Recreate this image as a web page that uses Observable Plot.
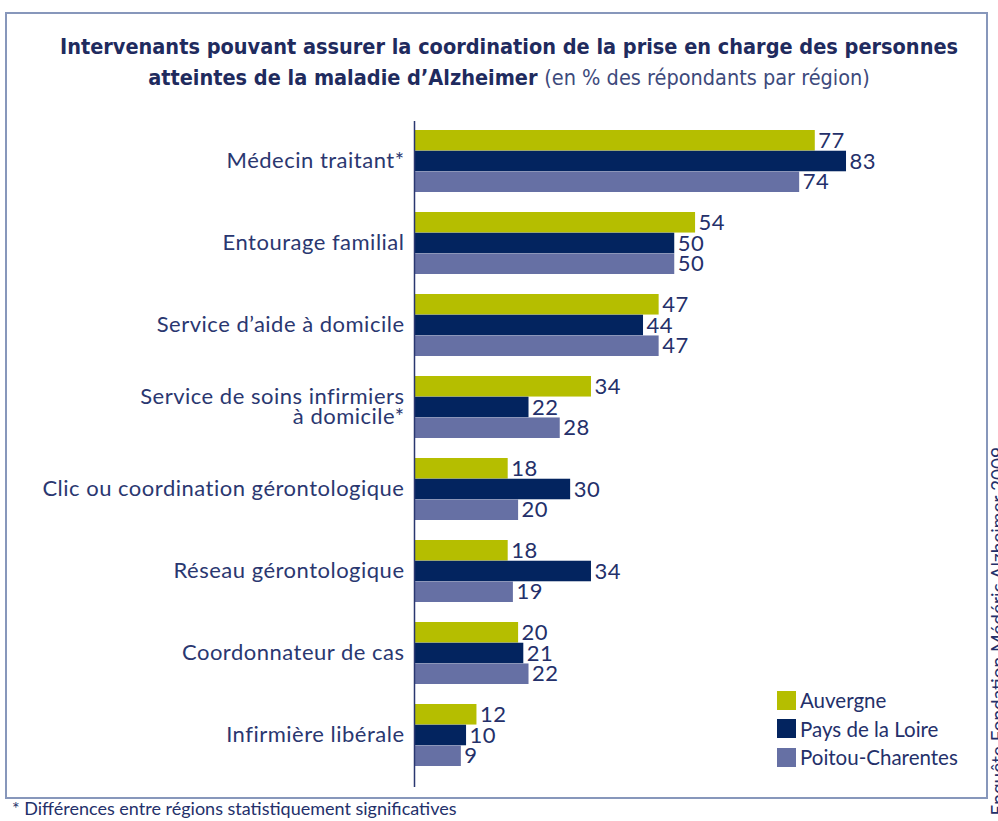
<!DOCTYPE html>
<html>
<head>
<meta charset="utf-8">
<script src="https://cdn.jsdelivr.net/npm/d3@7"></script>
<script src="https://cdn.jsdelivr.net/npm/@observablehq/plot@0.6"></script>
<style>
  html, body { margin: 0; padding: 0; background: #fff; }
  body { width: 998px; height: 821px; position: relative; overflow: hidden; font-family: Lato, "Open Sans", sans-serif; color: #24306a; }
  #chart { position: absolute; left: 0; top: 0; }
  #chart text { letter-spacing: 0.5px; }
  #frame { position: absolute; left: 5px; top: 12px; width: 979px; height: 783px; border: 2px solid #8797bb; pointer-events: none; }
  #title { position: absolute; left: 10px; top: 31px; width: 998px; text-align: center; font-family: "Liberation Sans Narrow", "DejaVu Sans Condensed", sans-serif; font-weight: bold; font-size: 21.5px; line-height: 31px; color: #1f2b5e; }
  #title .sub { font-weight: normal; color: #3d4a7c; }
  #legend { position: absolute; left: 777px; top: 686px; }
  .li { display: flex; align-items: center; height: 28.5px; font-size: 20.5px; color: #24306a; }
  .sw { width: 19px; height: 19px; margin-right: 4px; }
  #foot { position: absolute; left: 12px; top: 797px; font-size: 18px; color: #24306a; }
  #source { position: absolute; left: 988px; top: 447px; writing-mode: vertical-rl; transform: rotate(180deg); font-size: 19px; line-height: 19px; color: #24306a; white-space: nowrap; }
</style>
</head>
<body>
<div id="chart"></div>
<div id="frame"></div>
<div id="title">Intervenants pouvant assurer la coordination de la prise en charge des personnes<br>atteintes de la maladie d’Alzheimer <span class="sub">(en % des répondants par région)</span></div>
<div id="legend"></div>
<div id="foot">* Différences entre régions statistiquement significatives</div>
<div id="source">Enquête Fondation Médéric Alzheimer 2009</div>
<script>
const categories = [
  "Médecin traitant*",
  "Entourage familial",
  "Service d’aide à domicile",
  "Service de soins infirmiers\nà domicile*",
  "Clic ou coordination gérontologique",
  "Réseau gérontologique",
  "Coordonnateur de cas",
  "Infirmière libérale"
];
const regions = ["Auvergne", "Pays de la Loire", "Poitou-Charentes"];
const auvergne        = [77, 54, 47, 34, 18, 18, 20, 12];
const paysDeLaLoire   = [83, 50, 44, 22, 30, 34, 21, 10];
const poitouCharentes = [74, 50, 47, 28, 20, 19, 22, 9];
const colors = ["#b5be00", "#03245f", "#6670a4"];

const series = [auvergne, paysDeLaLoire, poitouCharentes];
const data = [];
series.forEach((vals, r) => vals.forEach((v, i) => data.push({category: categories[i], region: regions[r], ri: r, value: v})));

const W = 998, H = 821;
const mTop = 121, mBottom = 34, mLeft = 414, mRight = 63.5;
const insTop = 8, insBottom = 20;
const padInner = 0.244;
const rangeH = H - mTop - mBottom - insTop - insBottom;
const step = rangeH / (categories.length - padInner);
const bw = step * (1 - padInner);
const bh = bw / 3;
const font = "Lato, 'Open Sans', sans-serif";

const marks = [];
regions.forEach((reg, r) => {
  const d = data.filter(e => e.ri === r);
  marks.push(Plot.barX(d, {x: "value", y: "category", fill: colors[r], insetTop: r * bh, insetBottom: (2 - r) * bh}));
  marks.push(Plot.text(d, {x: "value", y: "category", text: d => String(d.value), dy: (r - 1) * bh, dx: 3, textAnchor: "start", fill: "#24306a", fontSize: 22, fontFamily: font}));
});
marks.push(Plot.text(categories, {x: 0, y: d => d, text: d => d, textAnchor: "end", dx: -10, fill: "#2a3770", fontSize: 22, lineHeight: 0.9, fontFamily: font}));
marks.push(Plot.ruleX([0], {stroke: "#2a3770", strokeWidth: 1.5}));

const plot = Plot.plot({
  width: W, height: H,
  marginTop: mTop, marginBottom: mBottom, marginLeft: mLeft, marginRight: mRight,
  insetTop: insTop, insetBottom: insBottom,
  x: {domain: [0, 100], axis: null},
  y: {domain: categories, paddingInner: padInner, paddingOuter: 0, axis: null},
  style: {background: "transparent", fontFamily: font},
  marks
});
document.getElementById("chart").appendChild(plot);

const legend = document.getElementById("legend");
regions.forEach((reg, r) => {
  const row = document.createElement("div");
  row.className = "li";
  const sw = document.createElement("div");
  sw.className = "sw";
  sw.style.background = colors[r];
  const lab = document.createElement("span");
  lab.textContent = reg;
  row.appendChild(sw); row.appendChild(lab);
  legend.appendChild(row);
});
</script>
</body>
</html>
